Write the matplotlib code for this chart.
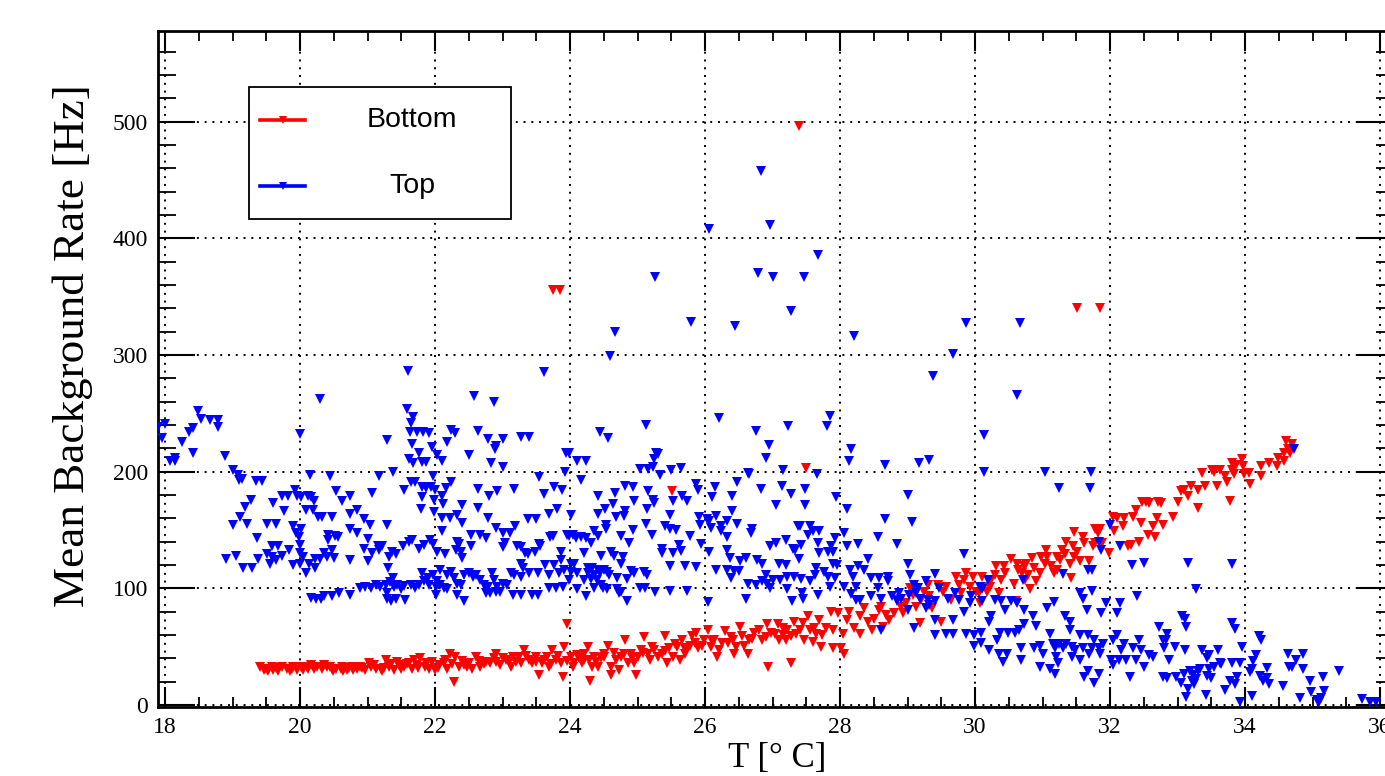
import matplotlib
matplotlib.use("Agg")
import matplotlib.pyplot as plt
from matplotlib.lines import Line2D
from matplotlib.patches import Rectangle
from matplotlib.ticker import MultipleLocator

# ---------------- data: (T [deg C], mean rate [Hz]) ----------------
# Bottom detector
bottom_18_21 = [(19.41,33),(19.46,30),(19.53,29),(19.60,30),(19.68,29),(19.73,33),(19.80,31),(19.88,31),(19.95,30),
    (20.02,33),(20.10,33),(20.17,34),(20.25,33),(20.32,31),(20.40,33),(20.47,31),(20.54,31),(20.62,33),(20.69,30),
    (20.77,33),(20.84,31),(19.58,33),(19.85,29),(20.12,31),(20.35,34),(20.49,29),(20.64,29),(20.79,30),(20.89,33)]
bottom_21_24 = [(20.97,30),(21.05,33),(21.12,31),(21.20,31),(21.27,39),(21.32,33),(21.39,30),(21.47,34),(21.54,33),
    (21.61,36),(21.69,39),(21.73,34),(21.78,40),(21.87,36),(21.91,31),(22.00,30),(22.06,34),(22.13,36),(22.22,44),
    (22.30,41),(22.28,20),(22.36,33),(22.43,34),(22.50,36),(22.60,41),(22.67,33),(22.75,37),(22.82,36),(22.91,44),
    (22.97,34),(23.05,39),(23.12,33),(23.20,37),(23.24,41),(23.32,47),(23.39,39),(23.43,36),(23.54,26),(23.59,36),
    (23.66,41),(23.74,47),(23.79,39),(23.86,36),(23.91,50),(23.96,69),(23.89,24),(21.02,36),(21.22,29),(21.44,37),
    (21.66,31),(21.96,37),(22.18,31),(22.55,31),(22.87,40),(23.15,41),(23.49,41),(23.69,33)]
bottom_24_27 = [(24.01,41),(24.06,36),(24.14,40),(24.21,44),(24.26,50),(24.28,39),(24.36,41),(24.41,33),(24.46,40),
    (24.51,44),(24.56,51),(24.61,33),(24.61,26),(24.30,21),(24.68,39),(24.76,41),(24.81,56),(24.86,36),(24.90,44),
    (24.98,26),(25.00,41),(25.05,47),(25.10,58),(25.15,44),(25.22,50),(25.30,41),(25.36,44),(25.41,59),(25.46,49),
    (25.53,41),(25.58,50),(25.66,56),(25.71,44),(25.78,51),(25.80,59),(25.87,62),(25.89,49),(25.99,56),(26.04,64),
    (26.09,50),(26.14,56),(26.21,47),(26.29,63),(26.34,53),(26.41,56),(26.46,50),(26.52,67),(26.58,51),(26.63,44),
    (26.65,56),(26.73,62),(26.80,64),(26.85,56),(26.92,69),(26.93,33),(26.98,62),(24.04,33),(24.18,36),(24.33,33),
    (24.72,30),(24.95,36),(25.19,39),(25.43,36),(25.63,39),(25.74,49),(26.18,41),(26.43,44),(25.51,183)]
bottom_band_19_27 = [(19.50,31),(19.65,32),(19.90,33),(20.05,30),(20.20,31),(20.45,33),(20.60,31),(20.72,32),
    (20.92,32),(21.10,34),(21.25,32),(21.35,35),(21.50,31),(21.58,35),(21.75,32),(21.85,33),(22.05,32),(22.15,39),
    (22.25,35),(22.40,38),(22.48,33),(22.65,38),(22.72,35),(22.90,37),(23.00,40),(23.10,37),(23.28,36),(23.35,42),
    (23.50,37),(23.62,39),(23.72,35),(23.82,42),(23.95,38),(24.10,43),(24.20,39),(24.38,37),(24.50,41),(24.65,45),
    (24.80,44),(24.92,40),(25.08,45),(25.25,47),(25.40,46),(25.55,52),(25.70,48),(25.85,53),(25.95,51),(26.10,55),
    (26.25,53),(26.38,58),(26.55,59),(26.70,57),(26.90,58)]
bottom_27_30 = [(27.50,203),(27.28,36),(27.08,69),(27.03,61),(27.10,56),(27.15,60),(27.22,64),(27.20,56),(27.27,59),
    (27.32,71),(27.40,64),(27.45,70),(27.47,56),(27.52,76),(27.55,64),(27.60,54),(27.62,66),(27.69,73),(27.74,60),
    (27.72,50),(27.79,66),(27.87,80),(27.89,64),(27.90,49),(27.97,79),(28.01,49),(28.06,44),(28.04,61),(28.10,73),
    (28.14,80),(28.21,66),(28.30,76),(28.36,83),(28.41,71),(28.48,64),(28.51,74),(28.58,81),(28.61,84),(28.68,77),
    (28.73,73),(28.80,79),(28.85,90),(28.90,84),(28.98,87),(29.04,100),(29.08,94),(29.18,70),(29.20,90),(29.25,97),
    (29.30,103),(29.32,93),(29.37,83),(29.45,103),(29.50,71),(29.52,97),(29.57,101),(29.64,90),(29.72,110),
    (29.77,103),(29.79,96),(29.84,107),(29.87,113),(29.92,101),(29.97,110),(30.01,97),(27.15,66),(27.35,61),
    (27.65,61),(28.29,61),(28.63,67),(29.13,84),(28.93,79)]
bottom_30_33 = [(30.06,96),(30.08,87),(30.13,101),(30.18,97),(30.11,110),(30.24,107),(30.29,111),(30.31,119),
    (30.36,96),(30.38,107),(30.45,113),(30.53,125),(30.58,104),(30.60,89),(30.62,121),(30.63,116),(30.69,113),
    (30.72,119),(30.76,121),(30.79,111),(30.82,99),(30.84,126),(30.87,117),(30.91,106),(30.96,113),(31.03,121),
    (31.05,133),(31.07,127),(31.13,119),(31.17,113),(31.22,116),(31.26,124),(31.29,133),(31.33,129),(31.35,140),
    (31.41,121),(31.42,109),(31.45,136),(31.47,148),(31.51,131),(31.55,123),(31.60,144),(31.62,139),(31.69,123),
    (31.75,136),(31.77,151),(31.82,147),(31.85,151),(31.88,139),(31.99,130),(32.04,161),(32.06,149),(32.11,160),
    (32.19,153),(32.21,160),(32.26,136),(32.31,137),(32.34,161),(32.38,167),(32.43,140),(32.46,156),(32.48,174),
    (32.53,174),(32.58,173),(32.56,146),(32.63,153),(32.66,144),(32.69,160),(32.71,174),(32.76,173),(32.78,154),
    (32.93,161),(33.00,174),(33.05,183),(30.22,101),(30.43,119),(30.74,107),(30.98,127),(31.22,127),(31.46,127),
    (31.77,139)]
bottom_33_36 = [(33.09,184),(33.16,179),(33.20,188),(33.31,184),(33.31,169),(33.36,199),(33.41,188),(33.51,201),
    (33.54,200),(33.59,188),(33.63,201),(33.70,196),(33.73,191),(33.78,175),(33.80,207),(33.80,201),(33.83,198),
    (33.87,206),(33.95,211),(33.97,205),(33.98,198),(34.06,199),(34.08,189),(34.23,205),(34.23,196),(34.35,207),
    (34.47,205),(34.49,212),(34.57,209),(34.58,216),(34.61,226),(34.64,219),(34.69,224),(34.67,216)]
bottom_outliers = [(27.39,496),(23.75,356),(23.85,356),(31.51,340),(31.85,340)]

# Top detector
top_18_21 = [(17.90,238),(18.00,241),(17.95,229),(18.07,209),(18.15,209),(18.15,212),(18.25,225),(18.36,234),
    (18.42,237),(18.42,216),(18.49,252),(18.54,245),(18.66,244),(18.78,244),(18.78,238),(18.89,213),(19.00,201),
    (19.08,197),(19.14,194),(19.09,193),(19.35,192),(19.43,192),(19.27,176),(19.19,170),(19.11,161),(19.01,154),
    (19.21,155),(18.90,125),(19.05,128),(19.15,117),(19.29,117),(19.37,143),(19.51,155),(19.65,155),(19.60,173),
    (19.73,179),(19.82,179),(19.76,166),(19.93,184),(19.95,179),(20.02,178),(20.12,179),(20.16,178),(20.20,175),
    (20.09,167),(20.19,167),(20.27,161),(20.33,161),(20.47,161),(20.00,232),(20.15,197),(20.44,196),(20.54,183),
    (20.62,175),(20.74,179),(20.74,164),(20.84,167),(19.90,153),(19.94,147),(19.98,144),(20.01,151),(20.00,137),
    (19.58,136),(19.68,136),(19.51,129),(19.58,127),(19.73,128),(19.56,121),(19.65,124),(19.84,133),(19.38,125),
    (20.00,130),(20.00,121),(19.90,120),(20.09,113),(20.05,127),(20.14,121),(20.22,117),(20.22,125),(20.30,125),
    (20.35,130),(20.40,127),(20.47,133),(20.42,146),(20.41,141),(20.52,145),(20.57,144),(20.50,126),(20.74,124),
    (20.74,151),(20.84,147),(20.16,92),(20.23,91),(20.31,91),(20.35,93),(20.47,93),(20.58,96),(20.74,94),
    (20.89,100),(20.30,262)]
top_21_24 = [(21.58,254),(21.68,247),(21.65,242),(21.29,227),(21.63,234),(21.73,234),(21.82,234),(21.91,233),
    (21.66,224),(21.96,221),(21.76,216),(21.61,211),(21.67,207),(21.81,208),(21.87,208),(22.03,214),(22.11,209),
    (22.18,225),(22.23,236),(22.30,233),(22.51,214),(22.64,235),(22.79,228),(22.89,219),(22.91,222),(23.00,228),
    (23.28,230),(23.39,230),(22.83,207),(23.00,204),(22.87,260),(23.94,216),(23.92,200),(21.38,200),(21.17,196),
    (21.06,182),(21.54,184),(21.64,191),(21.70,191),(21.81,187),(21.86,186),(21.94,187),(21.97,196),(22.00,184),
    (21.99,176),(22.11,179),(22.16,186),(22.23,191),(22.12,172),(21.81,178),(21.79,168),(21.99,165),(22.10,160),
    (22.22,160),(22.33,163),(22.40,171),(22.40,156),(22.63,185),(22.80,179),(22.92,183),(23.17,185),(22.64,169),
    (22.78,160),(22.90,152),(23.00,147),(23.11,147),(23.18,153),(23.38,159),(23.49,159),(23.54,195),(23.61,181),
    (23.76,187),(23.88,184),(23.80,168),(23.69,164),(22.10,149),(20.95,159),(21.03,154),(21.29,154),(21.00,142),
    (21.15,136),(21.22,136),(21.07,130),(21.17,133),(21.32,127),(21.42,129),(21.37,131),(21.53,136),(21.62,140),
    (21.66,141),(21.84,137),(21.92,141),(21.97,138),(20.95,134),(21.01,123),(21.31,117),(21.76,134),(22.03,131),
    (22.15,129),(22.31,133),(22.36,138),(22.38,131),(22.40,126),(22.32,140),(22.54,146),(22.66,146),(22.76,143),
    (22.53,136),(23.04,139),(23.00,135),(23.22,136),(23.27,135),(23.34,130),(23.38,129),(23.48,131),(23.56,136),
    (23.54,138),(23.71,144),(23.75,145),(23.95,146),(23.28,121),(23.30,117),(23.86,131),(23.87,124)]
top_21_24_band = [(21.12,103),(21.19,101),(21.27,103),(21.34,105),(21.38,109),(21.39,101),(21.44,103),(21.49,99),
    (21.54,102),(21.29,91),(21.35,89),(21.42,91),(21.29,96),(21.56,90),(21.64,103),(21.71,100),(21.76,103),
    (21.81,113),(21.84,106),(21.89,109),(21.91,103),(21.97,111),(22.01,101),(22.03,106),(22.08,103),(22.13,100),
    (22.08,116),(22.18,111),(22.23,114),(22.28,109),(22.33,104),(22.38,103),(22.43,111),(22.50,113),(22.56,110),
    (22.61,111),(22.67,107),(22.72,103),(22.78,101),(22.85,113),(22.87,107),(22.92,101),(23.00,104),(23.07,103),
    (23.12,113),(23.17,111),(23.27,110),(23.39,113),(23.52,113),(23.63,120),(23.69,111),(23.76,120),(23.84,113),
    (23.91,116),(22.75,96),(22.82,96),(22.90,97),(22.97,97),(23.15,94),(23.27,94),(23.44,94),(23.52,94),(23.69,100),
    (23.79,100),(23.89,101),(22.01,94),(22.33,94),(22.43,89),(22.18,99),(20.97,101),(21.05,100)]
top_24_27 = [(25.12,240),(24.44,234),(24.57,229),(26.20,246),(26.75,235),(26.95,223),(26.91,212),(23.99,216),
    (24.10,209),(24.24,209),(24.17,193),(25.27,216),(25.30,215),(25.25,211),(25.23,204),(25.15,202),(25.03,202),
    (25.33,197),(25.49,201),(25.64,203),(25.87,189),(25.89,184),(26.15,187),(26.11,178),(26.40,179),(26.48,191),
    (26.65,198),(26.63,199),(26.83,185),(24.81,188),(24.93,187),(25.16,183),(24.67,182),(24.41,179),(24.64,172),
    (24.52,168),(24.42,164),(24.81,166),(24.80,162),(24.95,175),(25.14,168),(25.23,176),(25.25,173),(25.53,175),
    (25.66,179),(25.74,175),(25.48,163),(24.68,161),(24.01,163),(25.12,155),(25.41,153),(25.48,151),(25.57,150),
    (24.93,150),(25.21,146),(25.78,145),(25.92,154),(25.91,161),(26.03,159),(26.06,158),(26.09,152),(26.17,162),
    (26.24,153),(26.32,158),(26.40,166),(26.48,155),(26.23,149),(26.32,144),(26.69,151),(26.68,147),(26.97,136),
    (23.99,145),(24.04,146),(24.09,143),(24.16,144),(24.24,143),(24.31,139),(24.36,149),(24.41,145),(24.53,154),
    (24.54,151),(24.75,145),(24.87,139),(24.20,130),(24.46,128),(24.60,131),(24.65,128),(24.78,127),(24.75,121),
    (25.36,134),(25.36,130),(25.53,130),(25.62,137),(25.64,132),(25.94,138),(25.48,119),(25.70,119),(25.87,118),
    (26.06,131),(26.33,133),(26.37,126),(26.52,123),(26.60,126),(26.77,124),(26.85,121),(26.17,116),(26.33,116),
    (26.38,109),(26.43,115),(26.50,115),(26.64,104),(26.76,103),(26.85,106),(26.90,111),(26.96,100),(26.92,104)]
top_24_27_band = [(24.02,121),(24.06,121),(24.11,113),(24.01,114),(23.99,107),(24.26,117),(24.33,117),(24.41,116),
    (24.26,113),(24.36,111),(24.44,113),(24.50,116),(24.55,114),(24.21,107),(24.31,108),(24.40,107),(24.46,103),
    (24.49,100),(24.58,111),(24.70,109),(24.85,108),(24.90,115),(24.95,113),(25.10,114),(25.14,111),(24.11,99),
    (24.24,93),(24.36,100),(24.55,99),(24.70,99),(24.72,96),(24.75,97),(24.85,89),(25.04,100),(25.11,100),
    (25.26,97),(25.48,98),(25.73,98),(26.05,88),(26.61,91)]
top_27_30 = [(27.85,248),(27.80,239),(27.23,239),(28.17,219),(28.13,209),(28.67,206),(29.17,207),(29.32,210),
    (27.15,201),(27.66,198),(27.14,188),(27.48,185),(27.28,181),(27.94,178),(27.48,171),(27.05,171),(28.11,168),
    (29.00,180),(28.66,159),(29.06,157),(27.40,153),(27.56,153),(27.60,149),(27.69,149),(27.53,146),(27.38,153),
    (27.05,139),(27.20,141),(27.30,134),(27.34,133),(27.42,137),(27.67,139),(27.92,143),(27.87,136),(27.82,131),
    (27.89,131),(27.69,130),(28.06,147),(28.10,136),(28.26,138),(28.56,144),(28.85,138),(28.42,125),(27.39,125),
    (27.10,121),(27.20,120),(27.89,121),(27.95,120),(28.26,119),(28.36,116),(27.65,117),(27.63,111),(27.77,114),
    (27.82,110),(27.92,109),(27.56,106),(27.42,108),(27.32,110),(27.22,110),(27.11,107),(27.00,107),(28.15,116),
    (28.19,110),(28.46,109),(28.58,109),(28.71,110),(28.71,106),(29.00,121),(29.03,111),(29.40,112),(29.28,106),
    (29.83,129),(28.06,101),(28.24,101),(28.16,95),(27.85,101),(27.67,94),(27.45,91),(27.43,96),(27.29,89),
    (27.22,99),(28.24,90),(28.29,90),(28.46,93),(28.57,100),(28.61,91),(28.77,93),(28.87,96),(28.90,91),(28.85,89),
    (29.10,103),(29.15,100),(29.13,96),(29.18,91),(29.28,83),(29.30,90),(29.32,86),(29.40,89),(29.47,100),
    (29.60,91),(29.70,96),(29.77,90),(29.83,80),(29.92,87),(29.94,93),(29.00,81),(29.41,73),(29.41,60),(29.57,61),
    (29.67,61),(29.68,73),(29.87,61),(29.99,60),(29.98,51),(29.10,66),(28.61,64),(29.02,94)]
top_30_33 = [(30.13,231),(30.13,200),(31.03,200),(31.72,200),(31.25,186),(31.70,186),(32.00,154),(32.15,136),
    (31.84,140),(31.87,133),(32.33,120),(32.51,122),(31.30,112),(31.67,116),(31.74,116),(30.71,107),(30.19,107),
    (30.07,101),(30.10,99),(30.10,89),(30.30,90),(30.38,89),(30.54,89),(30.62,87),(30.45,81),(30.73,81),(31.07,83),
    (31.17,88),(31.56,96),(31.60,91),(31.73,98),(31.66,81),(31.87,79),(31.94,87),(32.10,79),(32.15,87),(32.40,93),
    (30.23,76),(30.20,71),(30.09,62),(30.09,53),(30.20,47),(30.32,56),(30.37,62),(30.49,62),(30.36,44),(30.48,44),
    (30.42,37),(30.59,62),(30.65,64),(30.73,69),(30.68,49),(30.68,39),(30.86,76),(30.91,68),(30.88,49),(30.96,51),
    (30.96,33),(31.01,44),(31.11,61),(31.11,31),(31.16,52),(31.18,49),(31.20,41),(31.24,52),(31.18,27),(31.23,36),
    (31.31,49),(31.33,76),(31.35,52),(31.40,71),(31.40,64),(31.43,50),(31.43,41),(31.48,47),(31.55,39),(31.56,60),
    (31.60,49),(31.62,24),(31.67,60),(31.67,29),(31.69,44),(31.74,49),(31.76,56),(31.83,49),(31.83,27),(31.85,44),
    (31.90,52),(32.01,39),(32.04,34),(32.05,56),(32.11,60),(32.14,39),(32.16,47),(32.21,52),(32.24,39),(32.29,24),
    (32.34,49),(32.38,39),(32.43,56),(32.46,47),(32.51,33),(32.58,43),(32.63,41),(32.73,67),(32.78,56),(32.80,49),
    (32.83,56),(32.85,61),(32.88,39),(32.78,24),(32.85,23),(32.98,24),(32.96,50),(33.06,76),(33.05,19),(31.76,19)]
top_33_36 = [(34.73,219),(33.16,122),(33.81,121),(33.27,99),(33.11,74),(33.13,67),(33.80,70),(33.85,65),(34.20,59),
    (34.23,56),(33.95,50),(33.11,47),(33.36,47),(33.43,40),(33.46,43),(33.60,47),(33.63,36),(33.65,35),(33.54,33),
    (33.81,36),(33.93,36),(34.12,38),(34.16,43),(34.32,32),(34.10,31),(34.07,28),(34.22,25),(34.27,21),(34.32,23),
    (34.35,18),(34.63,44),(34.75,39),(34.65,33),(34.70,33),(34.86,44),(34.86,31),(34.96,21),(35.15,24),(34.98,11),
    (35.17,12),(35.39,29),(34.82,6),(35.06,4),(35.10,3),(35.12,6),(34.56,16),(35.73,5),(35.85,3),(35.94,3),
    (33.93,3),(34.10,8),(33.88,24),(33.85,18),(33.77,21),(33.70,13),(33.42,9),(33.09,27),(33.19,29),(33.21,21),
    (33.23,26),(33.16,14),(33.13,7),(33.25,18),(33.28,22),(33.31,29),(33.33,31),(33.43,25),(33.50,23),(33.46,31)]
top_outliers = [(26.06,408),(26.96,411),(26.83,458),(26.79,370),(27.01,367),(27.47,367),(27.67,386),(27.27,338),
    (26.44,325),(25.79,328),(25.26,367),(24.67,320),(24.59,299),(23.61,285),(22.58,265),(28.21,316),(29.87,327),
    (30.67,327),(30.62,266),(29.67,301),(29.38,282),(21.60,286)]

legend_labels = ["Bottom", "Top"]
series_colors = ["#ff0000", "#0000ff"]
x_ticks = [18, 20, 22, 24, 26, 28, 30, 32, 34, 36]
y_ticks = [0, 100, 200, 300, 400, 500]

bottom_points = (bottom_18_21 + bottom_21_24 + bottom_24_27 + bottom_band_19_27 + bottom_27_30
                 + bottom_30_33 + bottom_33_36 + bottom_outliers)
top_points = (top_18_21 + top_21_24 + top_21_24_band + top_24_27 + top_24_27_band + top_27_30
              + top_30_33 + top_33_36 + top_outliers)
bottom_T, bottom_rate = zip(*bottom_points)
top_T, top_rate = zip(*top_points)

# ---------------- figure ----------------
W, H = 1385, 776
fig = plt.figure(figsize=(W / 100, H / 100), dpi=100)
ax = fig.add_axes([158 / W, 69 / H, 1236 / W, 676 / H])

ax.plot(bottom_T, bottom_rate, ls="none", marker="v", ms=7.5, mew=0, color=series_colors[0], zorder=3)
ax.plot(top_T, top_rate, ls="none", marker="v", ms=7.5, mew=0, color=series_colors[1], zorder=4)

ax.set_xlim(17.896, 36.207)
ax.set_ylim(-1.7, 577.6)
ax.set_xticks(x_ticks)
ax.set_yticks(y_ticks)
ax.xaxis.set_minor_locator(MultipleLocator(0.5))
ax.yaxis.set_minor_locator(MultipleLocator(20))

ax.grid(True, which="major", color="black", linestyle=(0, (1.0, 3.0)), linewidth=1.4)
ax.set_axisbelow(True)

ax.tick_params(which="both", direction="in", top=True, right=True, colors="black")
ax.tick_params(axis="x", which="major", length=14.5, width=1.5, pad=7)
ax.tick_params(axis="x", which="minor", length=7.2, width=1.3)
ax.tick_params(axis="y", which="major", length=26.5, width=1.5, pad=7)
ax.tick_params(axis="y", which="minor", length=13, width=1.3)
for lab in ax.get_xticklabels() + ax.get_yticklabels():
    lab.set_fontfamily("Liberation Serif")
    lab.set_fontsize(17)
for sp in ax.spines.values():
    sp.set_linewidth(2.0)

fig.text(777 / W, 9 / H, "T [\u00b0 C]", ha="center", va="baseline",
         fontsize=25, family="Liberation Serif")
fig.text(73 / W, (H - 346) / H, "Mean Background Rate [Hz]", ha="center", va="center",
         rotation=90, fontsize=32.5, family="Liberation Serif")

# legend box (ROOT style)
fig.add_artist(Rectangle((249 / W, (H - 219) / H), 262 / W, 132 / H, transform=fig.transFigure,
                         facecolor="white", edgecolor="black", linewidth=1.3, zorder=10))
for i, (lab, col) in enumerate(zip(legend_labels, series_colors)):
    yy = (H - (120 + 66 * i)) / H
    fig.add_artist(Line2D([260 / W, 305 / W], [yy, yy], transform=fig.transFigure,
                          color=col, linewidth=2.6, zorder=11))
    fig.add_artist(Line2D([283 / W], [yy], transform=fig.transFigure, ls="none", marker="v",
                          ms=5.5, mew=0, color=col, zorder=12))
    fig.text(412 / W, yy, lab, ha="center", va="center", fontsize=20.5,
             family="Liberation Sans", zorder=12)

fig.savefig("out.png", dpi=100)
